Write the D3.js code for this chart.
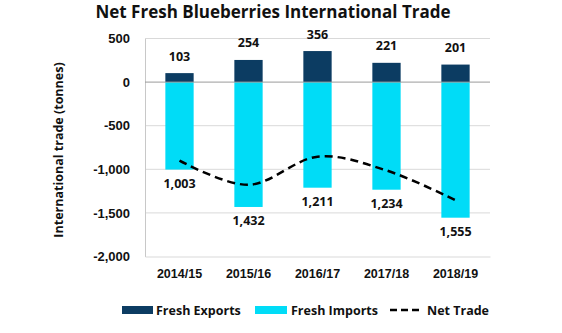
<!DOCTYPE html>
<html><head><meta charset="utf-8">
<script src="https://cdn.jsdelivr.net/npm/d3@7"></script>
<style>
html,body{margin:0;padding:0;background:#fff;}
svg{display:block;font-family:"Open Sans", sans-serif;font-weight:bold;}
</style></head>
<body><svg id="c" width="562" height="333"></svg>
<script>
const categories = ["2014/15","2015/16","2016/17","2017/18","2018/19"];
const freshExports = [103, 254, 356, 221, 201];
const freshImports = [1003, 1432, 1211, 1234, 1555];
const yTicks = [500, 0, -500, -1000, -1500, -2000];
const netTrade = freshExports.map((e,i)=>e - freshImports[i]);

const svg = d3.select("#c");
const x = d3.scaleBand().domain(categories).range([145, 490]).paddingInner(0.59).paddingOuter(0.295);
const y = d3.scaleLinear().domain([-2000, 500]).range([256.5, 38.5]);
const fmt = v => d3.format(",")(v).replace("\u2212","-");
const cExp = "#0c3c62", cImp = "#00dcf7";
const fs = 12.5;

// gridlines
svg.append("g").selectAll("line").data(yTicks.filter(t=>t!==0 && t!==-2000)).join("line")
  .attr("x1",145).attr("x2",490).attr("y1",d=>y(d)).attr("y2",d=>y(d))
  .attr("stroke","#d9d9d9").attr("stroke-width",1);

// y axis
const yAxis = svg.append("g").attr("transform","translate(145,0)")
  .call(d3.axisLeft(y).tickValues(yTicks).tickSize(0).tickPadding(15).tickFormat(d=>fmt(d)));
yAxis.select(".domain").attr("stroke","#c8c8c8");
yAxis.selectAll("text").attr("font-size",13).attr("fill","#111").attr("font-family",null);

// x axis at bottom
const xAxis = svg.append("g").attr("transform",`translate(0,${y(-2000)})`)
  .call(d3.axisBottom(x).tickSize(0).tickPadding(13));
xAxis.select(".domain").attr("stroke","#d9d9d9");
xAxis.selectAll("text").attr("font-size",fs).attr("fill","#111").attr("font-family",null);

// bars
svg.append("g").selectAll("rect").data(categories).join("rect")
  .attr("x",d=>x(d)).attr("width",x.bandwidth())
  .attr("y",(d,i)=>y(freshExports[i])).attr("height",(d,i)=>y(0)-y(freshExports[i]))
  .attr("fill",cExp);
svg.append("g").selectAll("rect").data(categories).join("rect")
  .attr("x",d=>x(d)).attr("width",x.bandwidth())
  .attr("y",y(0)).attr("height",(d,i)=>y(-freshImports[i])-y(0))
  .attr("fill",cImp);

// zero line
svg.append("line").attr("x1",145).attr("x2",490).attr("y1",y(0)).attr("y2",y(0))
  .attr("stroke","#9a9a9a").attr("stroke-width",1);

// net trade line
const line = d3.line().x((d,i)=>x(categories[i])+x.bandwidth()/2).y(d=>y(d)).curve(d3.curveCatmullRom.alpha(0));
svg.append("path").datum(netTrade).attr("d",line).attr("fill","none")
  .attr("stroke","#000").attr("stroke-width",2.5).attr("stroke-dasharray","8,5");

// labels
svg.append("g").selectAll("text").data(categories).join("text")
  .attr("x",d=>x(d)+x.bandwidth()/2).attr("y",(d,i)=>y(freshExports[i])-17)
  .attr("text-anchor","middle").attr("dominant-baseline","central")
  .attr("font-size",fs).attr("fill","#111").text((d,i)=>fmt(freshExports[i]));
svg.append("g").selectAll("text").data(categories).join("text")
  .attr("x",d=>x(d)+x.bandwidth()/2).attr("y",(d,i)=>y(-freshImports[i])+14)
  .attr("text-anchor","middle").attr("dominant-baseline","central")
  .attr("font-size",fs).attr("fill","#111").text((d,i)=>fmt(freshImports[i]));

// title
svg.append("text").attr("x",273).attr("y",11).attr("text-anchor","middle").attr("dominant-baseline","central")
  .attr("font-size",17).attr("fill","#111").text("Net Fresh Blueberries International Trade");

// y title
svg.append("text").attr("transform","translate(58,150) rotate(-90)").attr("text-anchor","middle")
  .attr("dominant-baseline","central").attr("font-size",fs).attr("fill","#111")
  .text("International trade (tonnes)");

// legend
const leg = svg.append("g");
const ly = 310;
leg.append("rect").attr("x",122).attr("y",ly-4).attr("width",31).attr("height",8).attr("fill",cExp);
leg.append("text").attr("x",156).attr("y",ly).attr("dominant-baseline","central").attr("font-size",fs).attr("fill","#111").text("Fresh Exports");
leg.append("rect").attr("x",255).attr("y",ly-4).attr("width",32).attr("height",8).attr("fill",cImp);
leg.append("text").attr("x",291).attr("y",ly).attr("dominant-baseline","central").attr("font-size",fs).attr("fill","#111").text("Fresh Imports");
leg.append("line").attr("x1",390).attr("x2",421).attr("y1",ly).attr("y2",ly).attr("stroke","#000").attr("stroke-width",2.5).attr("stroke-dasharray","7,4");
leg.append("text").attr("x",427).attr("y",ly).attr("dominant-baseline","central").attr("font-size",fs).attr("fill","#111").text("Net Trade");
</script></body></html>
